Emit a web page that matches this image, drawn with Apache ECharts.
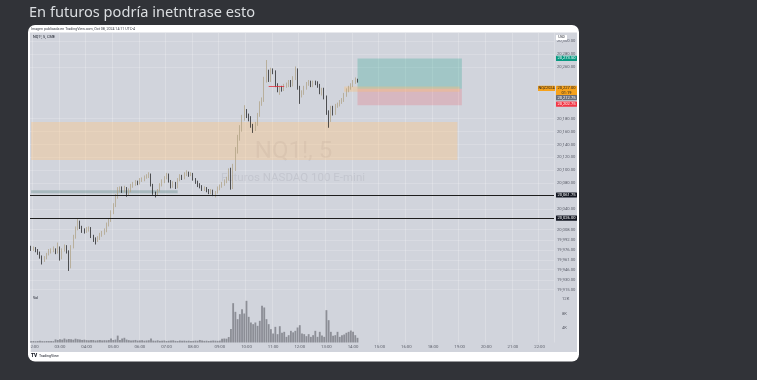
<!DOCTYPE html>
<html><head><meta charset="utf-8">
<script src="https://cdn.jsdelivr.net/npm/echarts@6/dist/echarts.min.js"></script>
<style>html,body{margin:0;padding:0;background:#313338;width:757px;height:380px;overflow:hidden}#c{width:757px;height:380px}</style>
</head><body><div id="c"></div>
<script>
// ---------- DATA ----------
const opens=[19980,19978,19979,19976,19972,19966,19961,19964,19970,19975,
19976,19977,19973,19980,19964,19976,19981,19974,19950,19982,
19997,20010,20020,20012,20007,20006,20009,20010,19998,19993,
19992,19995,20000,20003,20007,20016,20023,20035,20046,20060,
20069,20072,20069,20072,20063,20069,20076,20079,20082,20080,
20085,20086,20089,20091,20093,20077,20065,20063,20069,20077,
20083,20088,20093,20083,20075,20080,20074,20085,20091,20088,
20094,20096,20093,20094,20086,20082,20077,20075,20071,20072,
20069,20066,20068,20063,20066,20072,20075,20079,20083,20086,
20100,20074,20103,20131,20150,20165,20181,20191,20184,20181,
20169,20164,20172,20186,20204,20209,20240,20252,20240,20255,
20252,20232,20225,20228,20226,20231,20232,20237,20232,20243,
20255,20228,20217,20220,20228,20234,20236,20232,20236,20235,
20231,20221,20225,20213,20190,20178,20197,20189,20200,20202,
20206,20209,20217,20224,20228,20232,20237,20240];
const closes=[19978,19979,19976,19972,19966,19961,19964,19970,19975,19976,
19977,19973,19979,19964,19976,19981,19974,19950,19982,19997,
20010,20020,20012,20007,20006,20009,20010,19998,19993,19992,
19995,20000,20003,20007,20016,20023,20035,20046,20060,20069,
20072,20069,20072,20063,20069,20076,20079,20082,20080,20085,
20086,20089,20091,20093,20077,20065,20063,20069,20077,20083,
20088,20093,20083,20075,20080,20074,20085,20091,20088,20094,
20096,20093,20094,20086,20082,20077,20075,20071,20072,20069,
20066,20068,20063,20066,20072,20075,20079,20083,20086,20100,
20074,20103,20131,20150,20165,20181,20191,20184,20181,20169,
20164,20172,20186,20204,20209,20240,20252,20240,20255,20252,
20232,20225,20228,20226,20231,20232,20237,20232,20243,20255,
20228,20217,20220,20228,20234,20236,20232,20236,20235,20231,
20221,20225,20213,20190,20178,20197,20189,20200,20202,20206,
20209,20217,20224,20228,20232,20237,20240,20238];
const lows=[19975,19975,19973,19969,19963,19954,19958,19962,19968,19971,
19973,19970,19971,19960,19962,19974,19971,19944,19948,19979,
19994,20007,20009,20003,20002,20003,20005,19995,19989,19985,
19989,19992,19997,20000,20004,20013,20020,20032,20043,20056,
20066,20065,20066,20059,20061,20066,20073,20076,20077,20078,
20082,20083,20087,20088,20075,20062,20058,20061,20067,20075,
20080,20086,20081,20072,20073,20071,20072,20083,20085,20086,
20091,20090,20091,20084,20079,20074,20072,20068,20068,20066,
20063,20063,20060,20058,20064,20069,20073,20076,20080,20084,
20070,20071,20099,20126,20146,20160,20177,20181,20176,20166,
20158,20161,20169,20183,20200,20206,20236,20237,20237,20249,
20229,20221,20217,20222,20223,20228,20229,20229,20230,20240,
20225,20203,20213,20217,20225,20231,20229,20229,20232,20228,
20218,20216,20210,20186,20166,20175,20185,20186,20197,20199,
20203,20206,20214,20221,20225,20229,20234,20236];
const highs=[19983,19982,19981,19978,19974,19968,19967,19972,19978,19979,
19982,19979,19988,19982,19979,19985,19984,19976,19984,20000,
20013,20025,20022,20014,20010,20012,20013,20012,20000,19996,
19998,20003,20006,20010,20019,20026,20038,20049,20063,20074,
20075,20075,20076,20074,20072,20079,20082,20085,20084,20088,
20089,20092,20094,20097,20095,20079,20067,20071,20080,20086,
20091,20096,20095,20085,20083,20082,20088,20094,20093,20097,
20100,20098,20097,20096,20088,20084,20080,20077,20075,20074,
20071,20071,20070,20068,20075,20078,20082,20086,20090,20103,
20104,20110,20136,20155,20170,20186,20201,20195,20188,20184,
20172,20175,20189,20207,20213,20245,20271,20256,20259,20258,
20255,20235,20231,20231,20234,20236,20240,20240,20246,20261,
20258,20231,20224,20231,20237,20240,20239,20239,20239,20238,
20234,20228,20228,20216,20193,20200,20200,20203,20205,20209,
20212,20220,20227,20231,20235,20240,20244,20242];
const volumes=[380,420,350,400,450,380,360,410,390,420,
370,850,700,920,780,1100,820,950,880,760,
1050,900,820,700,780,650,600,720,680,550,
620,700,580,640,600,680,1100,700,800,1900,
700,1100,1300,800,650,550,600,700,520,580,
640,500,560,620,1100,520,480,600,450,500,
560,420,480,520,600,450,400,540,480,520,
450,500,380,460,520,480,700,560,450,500,
420,480,550,500,460,520,1000,1100,1050,1500,
3700,10850,8460,6440,7820,9200,8000,11500,7080,5520,
5060,5520,4600,5980,10120,9660,6440,5060,3680,2480,
4320,2300,4500,2670,2940,1560,2020,3220,2800,3220,
4140,4780,2480,2300,1750,2300,1560,2020,3220,1560,
2940,1900,1560,8920,6160,2940,1840,2020,2940,1560,
2020,2200,2670,2940,3300,2940,2020,1290];
const priceTicks=[20300,20280,20260,20180,20160,20140,20120,20100,20080,20040,20008,19992,19976,19961,19946,19930,19915];
const volTicks=[4000,8000,12000];
const levelLines=[20061.75,20026.00];
const levelLabels=['20,061.75','20,026.00'];
const targetPrice=20273.5, entryPrice=20226.5, stopPrice=20201.0;
const lastPrice=20227.00, midPrice=20212.75, stopLabelPrice=20202.75;
const demandZone=[20116,20175];
const supportBand=[20064.5,20069];
const entryBand=[20222,20230];
const redLineLevel=20230.5;

// time categories (5-minute bars, 17:00 hour closed)
const times=['01:55'];
for(let h=2;h<=22;h++){ if(h===17) continue; for(let m=0;m<60;m+=5){ times.push(String(h).padStart(2,'0')+':'+String(m).padStart(2,'0')); } }
const cats=times.slice(0,236);

const fmt=v=>v.toLocaleString('en-US',{minimumFractionDigits:2,maximumFractionDigits:2});
const candles=opens.map((o,i)=>[o,closes[i],lows[i],highs[i]]);

const chart=echarts.init(document.getElementById('c'),null,{renderer:'canvas',width:757,height:380});
const gridLine={show:true,interval:(i,v)=>v.endsWith(':00'),lineStyle:{color:'rgba(255,255,255,0.22)',width:1}};
const option={
  backgroundColor:'transparent',
  animation:false,
  grid:[{left:30,width:524,top:33,height:260},{left:30,width:524,top:293,height:49.5}],
  xAxis:[
    {type:'category',gridIndex:0,data:cats,boundaryGap:true,axisLine:{show:false},axisTick:{show:false},axisLabel:{show:false},splitLine:gridLine},
    {type:'category',gridIndex:1,data:cats,boundaryGap:true,axisLine:{show:false},axisTick:{show:false},
     axisLabel:{show:true,interval:(i,v)=>v.endsWith(':00'),fontSize:4.3,color:'#5d606b',margin:2.6,fontFamily:'Roboto'},splitLine:gridLine}
  ],
  yAxis:[
    {type:'value',gridIndex:0,position:'right',min:19909.8,max:20312.9,axisLine:{show:false},axisTick:{show:false,customValues:priceTicks},
     splitLine:{show:true,lineStyle:{color:'rgba(255,255,255,0.18)'}},
     axisLabel:{customValues:priceTicks,formatter:v=>fmt(v),fontSize:4.2,color:'#5d606b',margin:3,fontFamily:'Roboto'}},
    {type:'value',gridIndex:1,position:'right',min:0,max:13655,axisLine:{show:false},axisTick:{show:false},splitLine:{show:false},
     axisLabel:{customValues:volTicks,formatter:v=>(v/1000)+'K',fontSize:4.2,color:'#5d606b',margin:8,fontFamily:'Roboto'}}
  ],
  series:[
    {type:'candlestick',xAxisIndex:0,yAxisIndex:0,data:candles,barWidth:1.3,z:3,
     itemStyle:{color:'#c8bb9a',color0:'#141414',borderColor:'#ad9f80',borderColor0:'#141414',borderWidth:0.7},
     markArea:{silent:true,data:[
       [{xAxis:0,yAxis:demandZone[0],itemStyle:{color:'rgba(255,196,130,0.38)'}},{xAxis:192,yAxis:demandZone[1]}],
       [{xAxis:0,yAxis:supportBand[0],itemStyle:{color:'rgba(100,140,140,0.38)'}},{xAxis:66,yAxis:supportBand[1]}],
       [{xAxis:147,yAxis:entryPrice,itemStyle:{color:'rgba(8,153,129,0.24)'}},{xAxis:194,yAxis:targetPrice}],
       [{xAxis:147,yAxis:stopPrice,itemStyle:{color:'rgba(242,54,69,0.18)'}},{xAxis:194,yAxis:entryPrice}],
       [{xAxis:141,yAxis:entryBand[0],itemStyle:{color:'rgba(255,190,110,0.35)'}},{xAxis:193,yAxis:entryBand[1]}]
     ]},
     markLine:{silent:true,symbol:['none','none'],label:{show:false},data:[
       {yAxis:levelLines[0],lineStyle:{color:'#1e1e1e',width:1,type:'solid'}},
       {yAxis:levelLines[1],lineStyle:{color:'#1e1e1e',width:1,type:'solid'}},
       [{coord:[107,redLineLevel],lineStyle:{color:'#e0303c',width:0.8,type:'solid'}},{coord:[114,redLineLevel]}]
     ]}
    },
    {type:'bar',xAxisIndex:1,yAxisIndex:1,data:volumes,barCategoryGap:'18%',itemStyle:{color:'#8c8e96'},z:2}
  ]
};
chart.setOption(option);

// ---------- frame, labels, text ----------
const py=v=>chart.convertToPixel({yAxisIndex:0},v);
const els=[];
function box(x,y,w,h,fill,z,r){els.push({type:'rect',shape:{x:x,y:y,width:w,height:h,r:r||0},style:{fill:fill},z:z,silent:true});}
function txt(x,y,s,fill,size,align,weight,family,z){els.push({type:'text',x:x,y:y,z:z,silent:true,
  style:{text:s,fill:fill,font:(weight||'normal')+' '+size+'px '+(family||'Roboto'),textAlign:align||'left',textVerticalAlign:'middle',align:align||'left',verticalAlign:'middle'}});}

box(28,25,551,336.5,'#ffffff',-20,7);
box(30,32.5,547,319.5,'#d1d4dc',-15,0);
txt(29,13,'En futuros podría inetntrase esto','#dbdee1',14.6,'left','normal','Noto Sans',1);
txt(31,29,'Imagen publicada en TradingView.com, Oct 08, 2024 14:11 UTC-4','#3a3d46',3.6,'left','normal','Roboto',1);
txt(33,37.5,'NQ1!, 5, CME','#131722',3.8,'left','normal','Roboto',1);
txt(33,298.5,'Vol','#131722',3.6,'left','normal','Roboto',1);
txt(31,355.8,'TV','#131722',4.8,'left','900','Roboto',1);
txt(39,355.8,'TradingView','#131722',3.6,'left','normal','Roboto',1);
// watermark
txt(293.5,152,'NQ1!, 5','rgba(110,114,126,0.14)',24,'center','normal','Roboto',0);
txt(293,178,'Futuros NASDAQ 100 E-mini','rgba(110,114,126,0.14)',11.5,'center','normal','Roboto',0);
// price axis tags
box(556,35,11,5,'#ffffff',50,0.5); txt(561.5,37.6,'USD','#131722',3.5,'center','normal','Roboto',51);
function tag(v,bg,fg,s){const y=py(v);box(556,y-2.6,21,5.2,bg,50,0.5);txt(566.5,y,s,fg,4.1,'center','normal','Roboto',51);}
tag(targetPrice,'#089981','#ffffff',fmt(targetPrice));
(function(){const y=py(lastPrice);box(556,y-2.6,21,10.4,'#f7a21b',50,0.5);txt(566.5,y,fmt(lastPrice),'#131722',4.1,'center','normal','Roboto',51);
 txt(566.5,y+4.8,'01:19','#131722',4,'center','normal','Roboto',51);
 box(538,y-2.6,17,5.2,'#f7a21b',50,0.5);txt(546.5,y,'NQZ2024','#131722',3.8,'center','normal','Roboto',51);})();
tag(midPrice,'#6a6d78','#ffffff',fmt(midPrice));
tag(stopLabelPrice,'#f23645','#ffffff',fmt(stopLabelPrice));
levelLines.forEach((v,i)=>tag(v,'#131722','#ffffff',levelLabels[i]));
// clip left of first time label
box(0,343,28,9,'#313338',60,0); box(28,343,2.6,9,'#ffffff',60,0);
chart.setOption({graphic:{elements:els}});
</script></body></html>
